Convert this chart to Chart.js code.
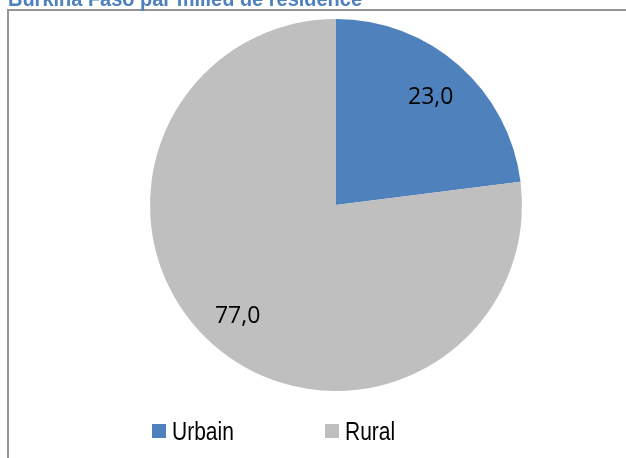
<!DOCTYPE html>
<html>
<head>
<meta charset="utf-8">
<script src="https://cdn.jsdelivr.net/npm/chart.js@4.4.1/dist/chart.umd.min.js"></script>
<style>
  html, body { margin: 0; padding: 0; background: #fff; }
  #wrap { width: 626px; height: 458px; position: relative; }
</style>
</head>
<body>
<div id="wrap"><canvas id="pie" width="626" height="458"></canvas></div>
<script>
// Data
var title = 'Burkina Faso par milieu de résidence';
var categories = ['Urbain', 'Rural'];
var shares = [23.0, 77.0];
var colors = ['#4F81BD', '#BFBFBF'];

// draw text squeezed horizontally (no narrow font installed)
function narrowText(ctx, txt, x, y, sx) {
    ctx.save();
    ctx.translate(x, y);
    ctx.scale(sx, 1);
    ctx.fillText(txt, 0, 0);
    ctx.restore();
}

// Frame + clipped title, like the Excel export
var framePlugin = {
    id: 'frame',
    beforeDraw: function(chart) {
        var ctx = chart.ctx;
        ctx.save();
        ctx.fillStyle = '#959595';
        ctx.fillRect(7, 9, 619, 2);
        ctx.fillRect(7, 9, 2, 449);
        ctx.fillStyle = '#4F81BD';
        ctx.font = 'bold 22px "Liberation Sans", Arial, sans-serif';
        ctx.textBaseline = 'alphabetic';
        var w = ctx.measureText(title).width;
        narrowText(ctx, title, 8, 6, 354 / w);
        ctx.restore();
    }
};

// Value labels inside the slices + custom legend
var labelPlugin = {
    id: 'sliceLabels',
    afterDatasetsDraw: function(chart) {
        var ctx = chart.ctx;
        var meta = chart.getDatasetMeta(0);
        ctx.save();
        ctx.fillStyle = '#000';
        ctx.font = '23px "Open Sans", "Liberation Sans", sans-serif';
        ctx.textAlign = 'center';
        ctx.textBaseline = 'middle';
        var fr = [0.77, 0.8];
        meta.data.forEach(function(arc, i) {
            var p = arc.getProps(['x', 'y', 'startAngle', 'endAngle', 'outerRadius'], true);
            var mid = (p.startAngle + p.endAngle) / 2;
            var r = p.outerRadius * fr[i];
            var txt = shares[i].toFixed(1).replace('.', ',');
            ctx.fillText(txt, p.x + Math.cos(mid) * r, p.y + Math.sin(mid) * r);
        });

        // legend
        var legendX = [152, 325];
        ctx.font = '25px "Liberation Sans", Arial, sans-serif';
        ctx.textAlign = 'left';
        ctx.textBaseline = 'alphabetic';
        categories.forEach(function(name, i) {
            ctx.fillStyle = colors[i];
            ctx.fillRect(legendX[i], 424, 14, 14);
            ctx.fillStyle = '#000';
            narrowText(ctx, name, legendX[i] + 20, 440, 0.84);
        });
        ctx.restore();
    }
};

new Chart(document.getElementById('pie'), {
    type: 'pie',
    data: {
        labels: categories,
        datasets: [{
            data: shares,
            backgroundColor: colors,
            borderWidth: 0
        }]
    },
    options: {
        responsive: false,
        animation: false,
        layout: { padding: { left: 150, right: 104, top: 19, bottom: 67 } },
        plugins: {
            legend: { display: false },
            tooltip: { enabled: false }
        }
    },
    plugins: [framePlugin, labelPlugin]
});
</script>
</body>
</html>
